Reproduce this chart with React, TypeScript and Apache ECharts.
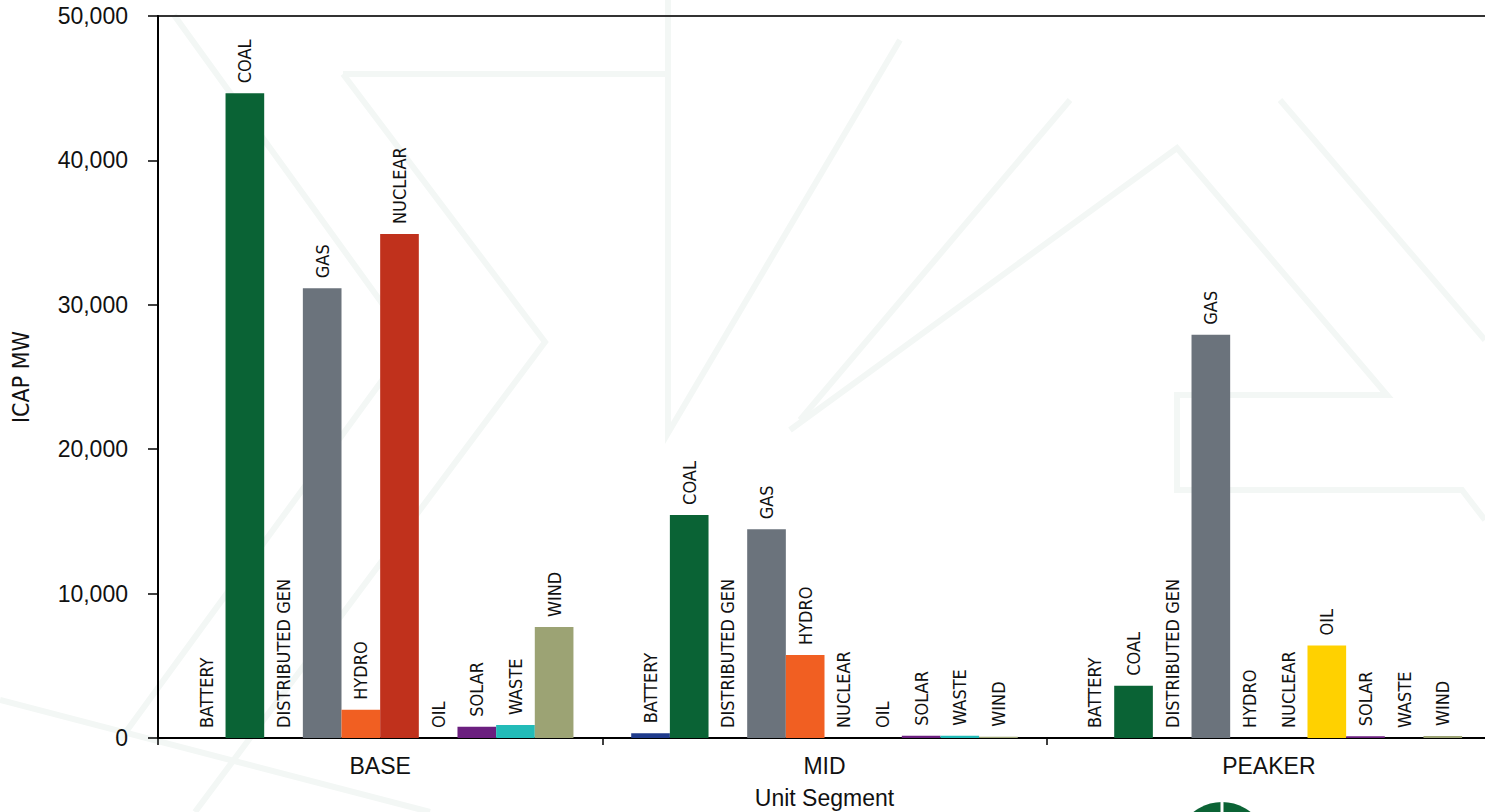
import React, { useEffect, useRef } from "react";
import * as echarts from "echarts";

const categories = ["BASE", "MID", "PEAKER"];
const seriesNames = ["BATTERY", "COAL", "DISTRIBUTED GEN", "GAS", "HYDRO", "NUCLEAR", "OIL", "SOLAR", "WASTE", "WIND"];
const battery = [0, 330, 0];
const coal = [44650, 15450, 3620];
const distributedGen = [0, 0, 0];
const gas = [31150, 14450, 27930];
const hydro = [1950, 5750, 0];
const nuclear = [34900, 0, 0];
const oil = [0, 0, 6400];
const solar = [780, 150, 120];
const waste = [900, 160, 0];
const wind = [7680, 90, 130];
const seriesValues = [battery, coal, distributedGen, gas, hydro, nuclear, oil, solar, waste, wind];
const seriesColors = ["#1f3b8c", "#0a6335", "#8a6d5a", "#6b737c", "#f15f22", "#c0311c", "#ffd100", "#6b1f7f", "#22bbb8", "#9ca374"];
const yTicks = { min: 0, max: 50000, interval: 10000 };

const WM = "#f3f7f5";
const CONDENSED = "'Liberation Sans Narrow', 'DejaVu Sans Condensed', sans-serif";
const REGULAR = "'Liberation Sans', Arial, sans-serif";

export default function App() {
  const ref = useRef<HTMLDivElement>(null);
  useEffect(() => {
    if (!ref.current) return;
    const chart = echarts.init(ref.current, null, { renderer: "svg" });
    const wm = (pts: number[][]) => ({
      type: "polyline",
      z: -10,
      silent: true,
      shape: { points: pts },
      style: { stroke: WM, lineWidth: 6, fill: null },
    });
    chart.setOption({
      animation: false,
      backgroundColor: "#ffffff",
      graphic: [
        wm([[343, 74], [545, 342], [195, 812]]),
        wm([[174, 15], [410, 342], [120, 740]]),
        wm([[343, 74], [668, 74]]),
        wm([[668, 0], [668, 433], [900, 40]]),
        wm([[790, 430], [1177, 148], [1387, 395], [1177, 395], [1177, 490], [1462, 490], [1485, 520]]),
        wm([[1280, 100], [1485, 340]]),
        wm([[1070, 100], [800, 420]]),
        wm([[0, 700], [430, 812]]),
        {
          type: "circle",
          z: 10,
          silent: true,
          shape: { cx: 1222, cy: 848, r: 46 },
          style: { fill: "#0b6335" },
        },
        {
          type: "line",
          z: 11,
          silent: true,
          shape: { x1: 1222, y1: 800, x2: 1222, y2: 812 },
          style: { stroke: "#ffffff", lineWidth: 3 },
        },
      ],
      grid: {
        left: 158,
        top: 16,
        bottom: 74,
        right: -6,
        outerBoundsMode: "none",
        containLabel: false,
        show: true,
        borderColor: "#333333",
        borderWidth: 2,
        backgroundColor: "transparent",
      },
      xAxis: {
        type: "category",
        data: categories,
        name: "Unit Segment",
        nameLocation: "middle",
        nameGap: 48,
        nameTextStyle: { fontFamily: REGULAR, fontSize: 23, color: "#111", lineHeight: 23 },
        axisLine: { lineStyle: { color: "#000", width: 2 } },
        axisTick: { show: true, length: 7, lineStyle: { color: "#000", width: 1.5 } },
        axisLabel: {
          fontFamily: REGULAR,
          fontSize: 23,
          color: "#111",
          margin: 16,
        },
        splitLine: { show: false },
      },
      yAxis: {
        type: "value",
        min: yTicks.min,
        max: yTicks.max,
        interval: yTicks.interval,
        name: "ICAP MW",
        nameLocation: "middle",
        nameRotate: 90,
        nameGap: 126,
        nameTextStyle: { fontFamily: CONDENSED, fontSize: 23, color: "#111" },
        axisLine: { show: true, lineStyle: { color: "#000", width: 2 } },
        axisTick: { show: true, length: 10, lineStyle: { color: "#000", width: 1.5 } },
        axisLabel: {
          fontFamily: REGULAR,
          fontSize: 23,
          color: "#111",
          margin: 30,
          formatter: (v: number) => v.toLocaleString("en-US"),
        },
        splitLine: { show: false },
      },
      series: seriesNames.map((name, i) => ({
        name,
        type: "bar",
        data: seriesValues[i],
        barGap: "0%",
        barCategoryGap: "13%",
        itemStyle: { color: seriesColors[i] },
        label: {
          show: true,
          position: "top",
          rotate: 90,
          align: "left",
          verticalAlign: "middle",
          distance: 10,
          formatter: () => name,
          fontFamily: CONDENSED,
          fontSize: 18,
          color: "#111",
        },
      })),
    });
    return () => chart.dispose();
  }, []);
  return <div ref={ref} style={{ position: "fixed", left: 0, top: 0, width: 1485, height: 812 }} />;
}
